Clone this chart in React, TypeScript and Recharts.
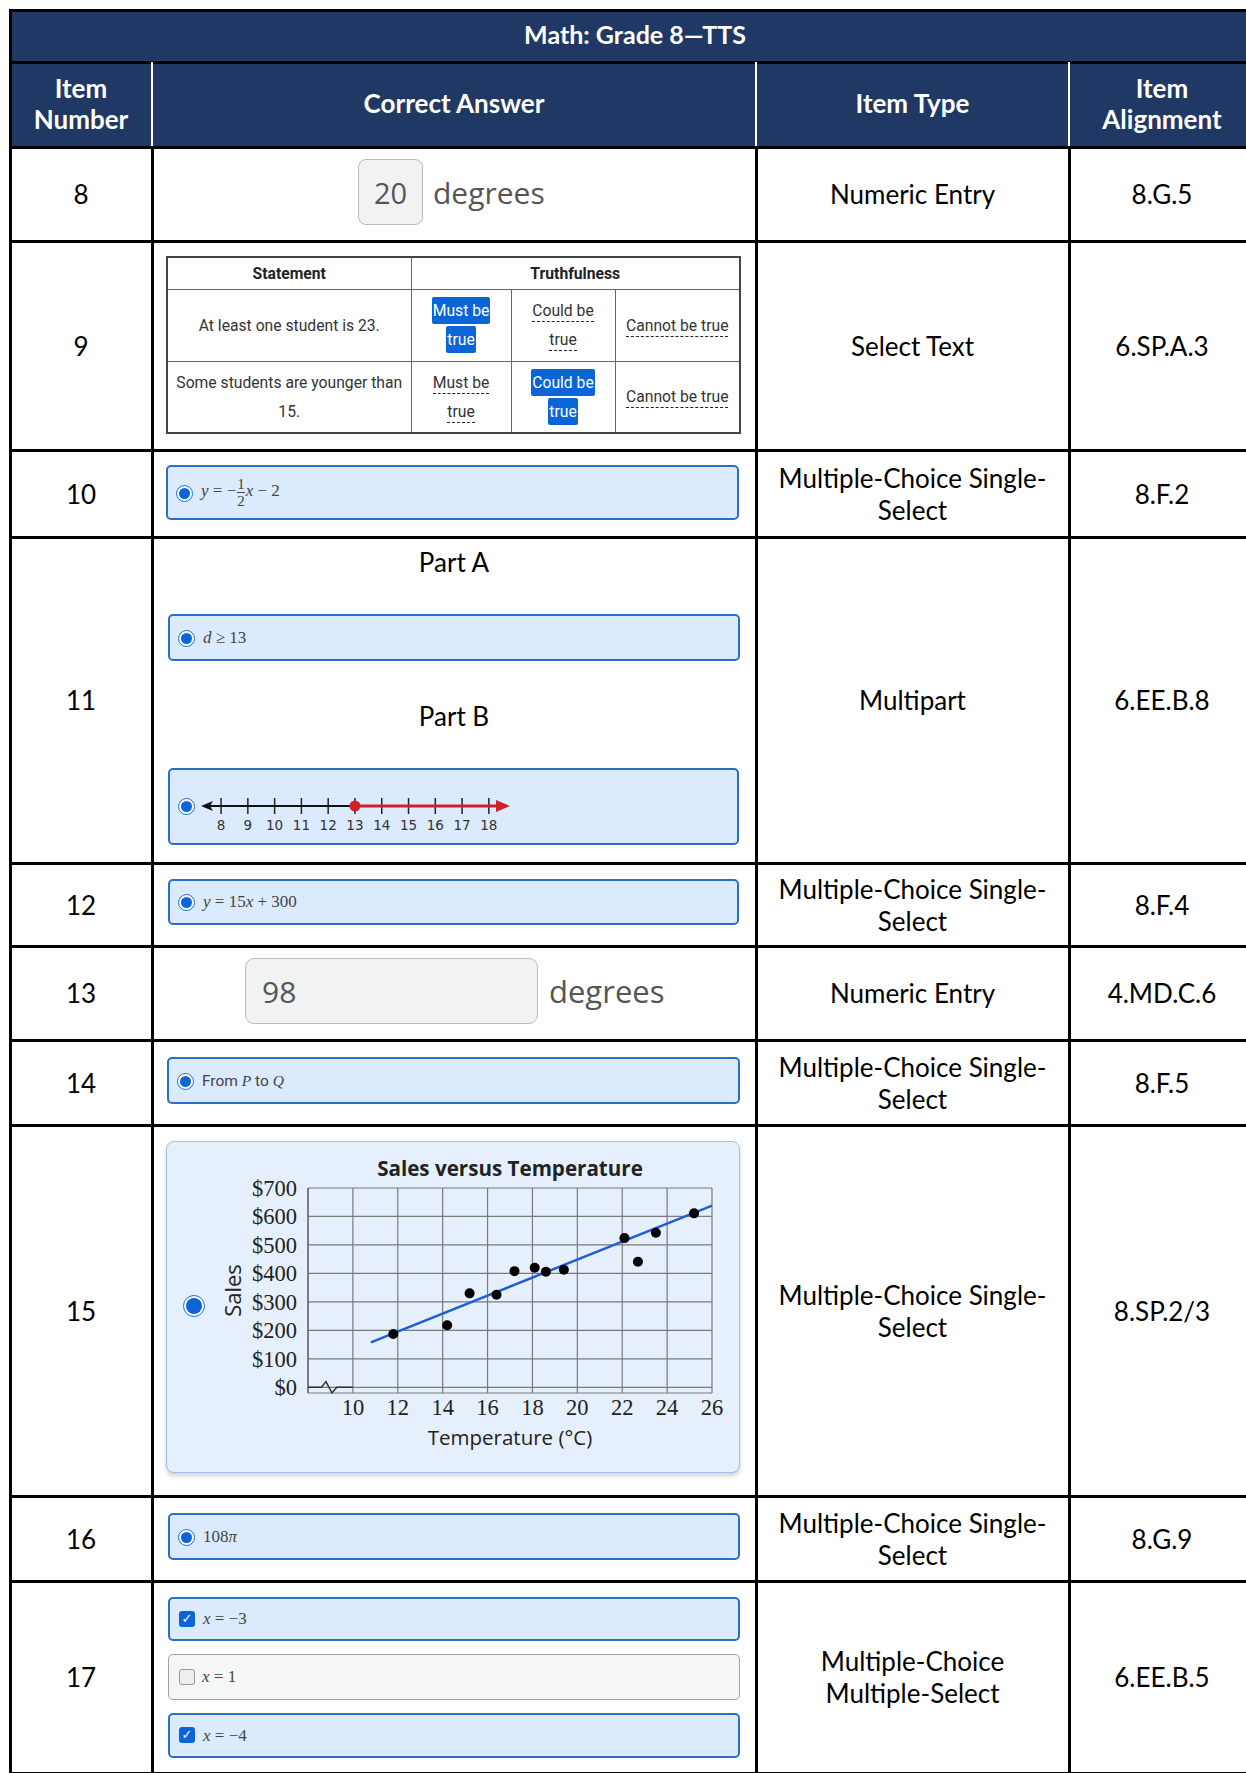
import { ScatterChart, Scatter, XAxis, YAxis, CartesianGrid, Label } from 'recharts'

// table text
const itemNumbers = ['8', '9', '10', '11', '12', '13', '14', '15', '16', '17']
const itemTypes = [
  'Numeric Entry',
  'Select Text',
  'Multiple-Choice Single-\nSelect',
  'Multipart',
  'Multiple-Choice Single-\nSelect',
  'Numeric Entry',
  'Multiple-Choice Single-\nSelect',
  'Multiple-Choice Single-\nSelect',
  'Multiple-Choice Single-\nSelect',
  'Multiple-Choice\nMultiple-Select',
]
const alignments = ['8.G.5', '6.SP.A.3', '8.F.2', '6.EE.B.8', '8.F.4', '4.MD.C.6', '8.F.5', '8.SP.2/3', '8.G.9', '6.EE.B.5']

// scatter: sales vs temperature
const temps = [11.8, 14.2, 15.2, 16.4, 17.2, 18.1, 18.6, 19.4, 22.1, 22.7, 23.5, 25.2]
const sales = [187, 218, 330, 325, 408, 420, 406, 413, 524, 441, 543, 611]
const trendTemps = [10.8, 26]
const trendSales = [158, 638]
const tempTicks = [8, 10, 12, 14, 16, 18, 20, 22, 24, 26]
const salesTicks = [0, 100, 200, 300, 400, 500, 600, 700]
const breakTemps = [8, 8.6, 8.8, 9.07, 9.28, 10]
const breakSales = [0, 0, 20, -20, 0, 0]

// number line d >= 13
const lineTicks = [8, 9, 10, 11, 12, 13, 14, 15, 16, 17, 18]
const leftRay = [7.4, 13]
const rightRay = [13, 18.64]

const NAVY = '#203864'
const ROW_EDGES = [147, 241, 450, 537, 863, 946, 1040, 1125, 1496, 1581, 1773]
const COLS = [10, 152, 756, 1069, 1255]

const salesData = temps.map((t, i) => ({ x: t, y: sales[i] }))
const trendData = trendTemps.map((t, i) => ({ x: t, y: trendSales[i] }))
const breakData = breakTemps.map((t, i) => ({ x: t, y: breakSales[i] }))
const leftData = leftRay.map((v) => ({ x: v, y: 0 }))
const rightData = rightRay.map((v) => ({ x: v, y: 0 }))
const tickData = lineTicks.map((v) => ({ x: v, y: 0 }))

const abs = (l: number, t: number, w: number, h: number) => ({ position: 'absolute' as const, left: l, top: t, width: w, height: h })

function Box({ l, t, w, h, children, style }: any) {
  return (
    <div style={{ ...abs(l, t, w, h), display: 'flex', alignItems: 'center', justifyContent: 'center', textAlign: 'center', whiteSpace: 'pre-line', ...style }}>
      {children}
    </div>
  )
}

function Radio({ x, y, size = 17 }: { x: number; y: number; size?: number }) {
  return (
    <div style={{ ...abs(x - size / 2, y - size / 2, size, size), boxSizing: 'border-box', borderRadius: '50%', border: '1.5px solid #1a70e0', background: '#fff', display: 'flex', alignItems: 'center', justifyContent: 'center' }}>
      <div style={{ width: size - 6, height: size - 6, borderRadius: '50%', background: '#0b64d9' }} />
    </div>
  )
}

function Check({ x, y, on }: { x: number; y: number; on: boolean }) {
  return (
    <div style={{ ...abs(x - 8, y - 8, 16, 16), boxSizing: 'border-box', borderRadius: 3, background: on ? '#0b64d9' : '#eceeef', border: on ? 'none' : '1px solid #999', color: '#fff', fontSize: 13, lineHeight: '16px', textAlign: 'center', fontFamily: 'DejaVu Sans' }}>
      {on ? '✓' : ''}
    </div>
  )
}

function Choice({ l, t, w, h, on = true, children }: any) {
  return (
    <div style={{ ...abs(l, t, w, h), boxSizing: 'border-box', borderRadius: 5, background: on ? '#dbeafc' : '#f5f6f6', border: on ? '2.5px solid #2a6fc6' : '1px solid #a0a0a0' }}>
      <div style={{ position: 'absolute', left: 33, top: 0, height: '100%', display: 'flex', alignItems: 'center', fontFamily: '"Liberation Serif", serif', fontSize: 17, color: '#444' }}>{children}</div>
    </div>
  )
}

const I = ({ children }: any) => <i style={{ fontFamily: '"Liberation Serif", serif' }}>{children}</i>

function Hi({ children }: any) {
  return <span style={{ background: '#0a66d6', color: '#fff', borderRadius: 2, padding: '4px 1px' }}>{children}</span>
}
function Dash({ children }: any) {
  return <span style={{ borderBottom: '1px dashed #222', paddingBottom: 1 }}>{children}</span>
}

function Truth() {
  const cell = { border: '1px solid #666', textAlign: 'center' as const, padding: 0, lineHeight: '29px' }
  return (
    <table style={{ position: 'absolute', left: 166, top: 256, width: 573, height: 176, borderCollapse: 'collapse', border: '2px solid #444', fontFamily: 'Roboto', fontSize: 15.7, color: '#333', tableLayout: 'fixed' }}>
      <colgroup>
        <col style={{ width: 244 }} />
        <col style={{ width: 100 }} />
        <col style={{ width: 104 }} />
        <col style={{ width: 125 }} />
      </colgroup>
      <tbody>
        <tr style={{ height: 32 }}>
          <td style={{ ...cell, fontWeight: 700, color: '#222' }}>Statement</td>
          <td colSpan={3} style={{ ...cell, fontWeight: 700, color: '#222' }}>Truthfulness</td>
        </tr>
        <tr style={{ height: 72 }}>
          <td style={cell}>At least one student is 23.</td>
          <td style={cell}><Hi>Must be</Hi><br /><Hi>true</Hi></td>
          <td style={cell}><Dash>Could be</Dash><br /><Dash>true</Dash></td>
          <td style={cell}><Dash>Cannot be true</Dash></td>
        </tr>
        <tr style={{ height: 72 }}>
          <td style={cell}>Some students are younger than<br />15.</td>
          <td style={cell}><Dash>Must be</Dash><br /><Dash>true</Dash></td>
          <td style={cell}><Hi>Could be</Hi><br /><Hi>true</Hi></td>
          <td style={cell}><Dash>Cannot be true</Dash></td>
        </tr>
      </tbody>
    </table>
  )
}

const arrowLeft = (p: any) =>
  p.payload.x === leftRay[0] ? <polygon points={`${p.cx - 4},${p.cy} ${p.cx + 8},${p.cy - 5} ${p.cx + 5},${p.cy} ${p.cx + 8},${p.cy + 5}`} fill="#111" /> : <g />
const arrowRight = (p: any) =>
  p.payload.x === rightRay[1] ? <polygon points={`${p.cx + 4},${p.cy} ${p.cx - 10},${p.cy - 6} ${p.cx - 10},${p.cy + 6}`} fill="#d0202a" /> : <circle cx={p.cx} cy={p.cy} r={5.5} fill="#d0202a" />
const tickMark = (p: any) => <line x1={p.cx} x2={p.cx} y1={p.cy - 8} y2={p.cy + 8} stroke="#222" strokeWidth={1.5} />

function NumberLine() {
  return (
    <div style={{ position: 'absolute', left: 197, top: 791 }}>
      <ScatterChart width={317} height={50} margin={{ top: 0, right: 8, bottom: 0, left: 8 }}>
        <XAxis type="number" dataKey="x" domain={[7.4, 18.64]} ticks={lineTicks} axisLine={false} tickLine={false} tickSize={0} tickMargin={-1} interval={0} height={20} tick={{ fontSize: 13.5, fill: '#333', fontFamily: 'DejaVu Sans' }} />
        <YAxis type="number" dataKey="y" domain={[-1, 1]} hide />
        <Scatter data={tickData} shape={tickMark} isAnimationActive={false} />
        <Scatter data={leftData} line={{ stroke: '#111', strokeWidth: 2 }} shape={arrowLeft} isAnimationActive={false} />
        <Scatter data={rightData} line={{ stroke: '#d0202a', strokeWidth: 3 }} shape={arrowRight} isAnimationActive={false} />
      </ScatterChart>
    </div>
  )
}

const salesLabel = (p: any) => {
  const vb = p.viewBox
  const x = vb.x - 16
  const y = vb.y + vb.height / 2
  return (
    <text x={x} y={y} transform={`rotate(-90, ${x}, ${y})`} textAnchor="middle" dominantBaseline="central" fontFamily="Open Sans" fontSize={22} fill="#222">
      Sales
    </text>
  )
}

function SalesChart() {
  return (
    <div style={{ position: 'absolute', left: 166, top: 1141 }}>
      <ScatterChart width={574} height={332} margin={{ top: 47, right: 28, bottom: 20, left: 82 }}>
        <CartesianGrid stroke="#7a7a7a" strokeWidth={1.2} />
        <XAxis type="number" dataKey="x" domain={[8, 26]} ticks={tempTicks} interval={0} axisLine={false} tickLine={false} tickMargin={0} height={60}
          tickFormatter={(v: number) => (v === 8 ? '' : String(v))}
          tick={{ fontSize: 22.5, fill: '#222', fontFamily: '"Liberation Serif", serif' }}>
          <Label value="Temperature (°C)" position="insideBottom" offset={8} style={{ fontSize: 20.5, fill: '#222', fontFamily: 'Open Sans' }} />
        </XAxis>
        <YAxis type="number" dataKey="y" domain={[0, 700]} ticks={salesTicks} interval={0} width={60} axisLine={{ stroke: '#555' }} tickLine={false} tickMargin={5}
          tickFormatter={(v: number) => '$' + v}
          tick={{ fontSize: 22.5, fill: '#222', fontFamily: '"Liberation Serif", serif' }}>
          <Label content={salesLabel} />
        </YAxis>
        <Scatter data={breakData} line={{ stroke: '#333', strokeWidth: 1.5 }} shape={() => <g />} isAnimationActive={false} />
        <Scatter data={trendData} line={{ stroke: '#1f5fd6', strokeWidth: 2.5 }} shape={() => <g />} isAnimationActive={false} />
        <Scatter data={salesData} fill="#000" shape={(p: any) => <circle cx={p.cx} cy={p.cy} r={5} fill="#000" />} isAnimationActive={false} />
      </ScatterChart>
    </div>
  )
}

export default function App() {
  const top = ROW_EDGES.slice(0, -1)
  return (
    <div style={{ position: 'absolute', left: 0, top: 0, width: 1246, height: 1773, overflow: 'hidden', background: '#fff', fontFamily: 'Lato, "Open Sans", sans-serif', color: '#000' }}>
      {/* header bands */}
      <div style={{ ...abs(10, 10, 1250, 137), background: NAVY }} />
      <Box l={10} t={8} w={1250} h={52} style={{ color: '#fff', fontWeight: 700, fontSize: 25 }}>Math: Grade 8—TTS</Box>
      {[
        'Item\nNumber',
        'Correct Answer',
        'Item Type',
        'Item\nAlignment',
      ].map((s, i) => (
        <Box key={s} l={COLS[i]} t={61} w={COLS[i + 1] - COLS[i]} h={85} style={{ color: '#fff', fontWeight: 700, fontSize: 26, lineHeight: '31px' }}>{s}</Box>
      ))}

      {/* body text columns */}
      {top.map((y, i) => (
        <div key={i}>
          <Box l={COLS[0]} t={y} w={COLS[1] - COLS[0]} h={ROW_EDGES[i + 1] - y} style={{ fontSize: 26 }}>{itemNumbers[i]}</Box>
          <Box l={COLS[2]} t={y} w={COLS[3] - COLS[2]} h={ROW_EDGES[i + 1] - y} style={{ fontSize: 26, lineHeight: '32px' }}>{itemTypes[i]}</Box>
          <Box l={COLS[3]} t={y} w={COLS[4] - COLS[3]} h={ROW_EDGES[i + 1] - y} style={{ fontSize: 26 }}>{alignments[i]}</Box>
        </div>
      ))}

      {/* rules */}
      <div style={{ ...abs(9, 9, 1250, 3), background: '#000' }} />
      <div style={{ ...abs(9, 9, 3, 1770), background: '#000' }} />
      <div style={{ ...abs(9, 60.5, 1250, 3), background: '#000' }} />
      {ROW_EDGES.map((y) => (
        <div key={y} style={{ ...abs(9, y - 1.5, 1250, 3), background: '#000' }} />
      ))}
      {COLS.slice(1, 4).map((x) => (
        <div key={x}>
          <div style={{ ...abs(x - 1, 62, 2, 84), background: '#fff' }} />
          <div style={{ ...abs(x - 1.5, 147, 3, 1630), background: '#000' }} />
        </div>
      ))}

      {/* 8 */}
      <div style={{ ...abs(358, 159, 65, 66), boxSizing: 'border-box', border: '1.5px solid #bbb', borderRadius: 8, background: '#f1f3f3', display: 'flex', alignItems: 'center', justifyContent: 'center', fontFamily: '"Open Sans"', fontSize: 29, color: '#555' }}>20</div>
      <div style={{ ...abs(433, 173, 130, 40), fontFamily: '"Open Sans"', fontSize: 30, color: '#555', lineHeight: '40px' }}>degrees</div>

      {/* 9 */}
      <Truth />

      {/* 10 */}
      <Choice l={166} t={465} w={573} h={55}>
        <span>
          <I>y</I> = −
          <span style={{ display: 'inline-flex', flexDirection: 'column', verticalAlign: 'middle', fontSize: 15, lineHeight: '16px', textAlign: 'center', margin: '0 1px' }}>
            <span style={{ borderBottom: '1px solid #444' }}>1</span>
            <span>2</span>
          </span>
          <I>x</I> − 2
        </span>
      </Choice>
      <Radio x={184} y={493} />

      {/* 11 */}
      <Box l={152} t={542} w={604} h={40} style={{ fontSize: 26 }}>Part A</Box>
      <Choice l={168} t={614} w={572} h={47}><span><I>d</I> ≥ 13</span></Choice>
      <Radio x={186} y={638} />
      <Box l={152} t={696} w={604} h={40} style={{ fontSize: 26 }}>Part B</Box>
      <Choice l={168} t={768} w={571} h={77}><span /></Choice>
      <Radio x={186} y={806} />
      <NumberLine />

      {/* 12 */}
      <Choice l={168} t={879} w={571} h={46}><span><I>y</I> = 15<I>x</I> + 300</span></Choice>
      <Radio x={186} y={902} />

      {/* 13 */}
      <div style={{ ...abs(245, 958, 293, 66), boxSizing: 'border-box', border: '1.5px solid #bbb', borderRadius: 9, background: '#f1f3f3', display: 'flex', alignItems: 'center', paddingLeft: 16, fontFamily: '"Open Sans"', fontSize: 30, color: '#555' }}>98</div>
      <div style={{ ...abs(549, 971, 130, 40), fontFamily: '"Open Sans"', fontSize: 31, color: '#555', lineHeight: '40px' }}>degrees</div>

      {/* 14 */}
      <Choice l={167} t={1057} w={573} h={47}><span style={{ fontFamily: 'Roboto', fontSize: 15.5 }}>From <I>P</I> to <I>Q</I></span></Choice>
      <Radio x={185} y={1081} />

      {/* 15 */}
      <div style={{ ...abs(166, 1141, 574, 332), boxSizing: 'border-box', borderRadius: 8, background: '#e6f0fc', border: '1.5px solid #9ec2ef', boxShadow: '0 3px 4px rgba(0,0,0,0.18)' }} />
      <div style={{ ...abs(298, 1153, 424, 30), textAlign: 'center', fontFamily: '"Open Sans"', fontWeight: 700, fontSize: 20.6, color: '#222', lineHeight: '30px' }}>Sales versus Temperature</div>
      <SalesChart />
      <Radio x={194} y={1306} size={22} />

      {/* 16 */}
      <Choice l={168} t={1513} w={572} h={47}><span>108<I>π</I></span></Choice>
      <Radio x={186} y={1537} />

      {/* 17 */}
      <Choice l={168} t={1597} w={572} h={44}><span><I>x</I> = −3</span></Choice>
      <Check x={187} y={1619} on />
      <Choice l={168} t={1654} w={572} h={46} on={false}><span><I>x</I> = 1</span></Choice>
      <Check x={187} y={1677} on={false} />
      <Choice l={168} t={1713} w={572} h={45}><span><I>x</I> = −4</span></Choice>
      <Check x={187} y={1735} on />
    </div>
  )
}
